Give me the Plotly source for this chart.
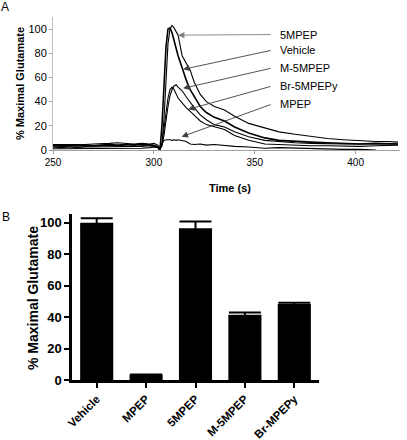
import plotly.graph_objects as go

# ---------- Panel A data ----------
time_s = [250, 254, 258, 262, 266, 270, 274, 278, 282, 286, 290, 294, 298, 300, 302, 303,
          304, 305, 306, 307, 308, 309, 310, 311, 312, 314, 316, 318, 320, 323, 326, 330,
          335, 340, 347, 355, 362, 370, 378, 386, 394, 402, 410, 416, 421]

mpep5 = [4.5, 4.5, 4, 4.5, 4.5, 5, 5, 5.5, 6, 5.5, 5, 5.5, 5, 5.5, 4, 2,
         5, 25, 60, 88, 100, 103, 101, 98, 95, 78, 72, 66, 56, 46, 40, 36,
         33, 28, 22, 18, 15, 13, 11, 9.5, 8.5, 7.5, 7, 7, 6.5]
vehicle = [3.5, 3.5, 3, 3.5, 4, 3.5, 4, 4.5, 4, 4.5, 4, 4.5, 4, 3.5, 2, 0,
           20, 55, 85, 100, 101, 97, 90, 84, 78, 68, 58, 50, 44, 36, 31, 27,
           24, 19, 14, 10, 8, 7, 6.5, 6, 5.5, 5, 5.5, 5.5, 5]
m5mpep = [2.5, 3, 3, 3.5, 3, 3.5, 3.5, 4, 3.5, 4, 4.5, 4, 4.5, 4, 3, 1,
          3, 12, 25, 36, 45, 50, 53, 54, 52, 49, 44, 39, 35, 29, 25, 21,
          19, 15, 11, 8, 7, 6, 5.5, 5, 5, 5, 5, 5.5, 5]
br5mpepy = [1, 1, 1.5, 1, 1, 1, 1.5, 1, 1.5, 1, 1, 1.5, 2, 2.5, 2, 0.5,
            5, 18, 32, 43, 50, 52, 50, 46, 43, 39, 35, 32, 29, 24, 21, 19,
            17, 12, 8, 5, 4.5, 4, 3.5, 3.5, 3, 3, 3.5, 4, 4]
mpep = [2.5, 2, 2.5, 2, 2.5, 2.5, 3, 2.5, 3, 2.5, 3, 3, 3.5, 3, 2, 0,
        5, 8, 8.5, 8.5, 8.5, 8, 8.5, 8, 8.5, 8, 7, 5, 4.5, 5, 4, 4.5,
        3.5, 3, 2.5, 1.5, 2, 1.5, 1, 1, 0.5, 0.5, 0, None, None]

line_names = ["5MPEP", "Vehicle", "M-5MPEP", "Br-5MPEPy", "MPEP"]
line_series = [mpep5, vehicle, m5mpep, br5mpepy, mpep]

# ---------- Panel B data ----------
bar_cats = ["Vehicle", "MPEP", "5MPEP", "M-5MPEP", "Br-MPEPy"]
bar_vals = [100, 3.5, 96.5, 41.5, 48.3]
bar_errs = [2.8, 0, 4.2, 1.4, 0.8]

FONT = "Arial, Liberation Sans, sans-serif"
fig = go.Figure()

widths = [1.1, 1.6, 1.1, 1.1, 1.1]
for name, ys, w in zip(line_names, line_series, widths):
    fig.add_trace(go.Scatter(x=time_s, y=ys, mode="lines", name=name,
                             line=dict(color="black", width=w),
                             xaxis="x", yaxis="y", showlegend=False))

fig.add_trace(go.Bar(x=bar_cats, y=bar_vals, width=0.67,
                     marker=dict(color="black", line=dict(width=0)),
                     error_y=dict(type="data", array=bar_errs, visible=True,
                                  color="black", thickness=2, width=16),
                     xaxis="x2", yaxis="y2", showlegend=False))

W, H = 407, 440
def px_x(p): return p / W
def px_y(p): return 1 - p / H

fig.update_layout(
    width=W, height=H, margin=dict(l=0, r=0, t=0, b=0, autoexpand=False),
    paper_bgcolor="white", plot_bgcolor="white",
    font=dict(family=FONT, color="black"),
    xaxis=dict(domain=[px_x(53), px_x(400)], range=[250, 422], anchor="y",
               automargin=False,
               tickvals=[250, 300, 350, 400], showline=True, linecolor="#a0a0a0",
               linewidth=1, ticks="outside", ticklen=3, tickcolor="#a0a0a0",
               showgrid=False, zeroline=False, tickfont=dict(size=10)),
    yaxis=dict(domain=[px_y(150), px_y(17)], range=[0, 110], anchor="x",
               automargin=False,
               tickvals=[0, 20, 40, 60, 80, 100], showline=True, linecolor="#c0c0c0",
               linewidth=1, ticks="outside", ticklen=3, tickcolor="#a0a0a0",
               showgrid=False, zeroline=False, tickfont=dict(size=11)),
    xaxis2=dict(domain=[px_x(72), px_x(319)], range=[-0.5, 4.5], anchor="y2",
                automargin=False,
                showline=True, linecolor="black", linewidth=2.5, ticks="outside",
                ticklen=5, tickwidth=2, tickcolor="black", tickangle=-45,
                showgrid=False, zeroline=False,
                tickfont=dict(size=11.5, weight="bold")),
    yaxis2=dict(domain=[px_y(380), px_y(214)], range=[0, 105.5], anchor="x2",
                automargin=False,
                tickvals=[0, 20, 40, 60, 80, 100], showline=True, linecolor="black",
                linewidth=2.5, ticks="outside", ticklen=5, tickwidth=2, tickcolor="black",
                showgrid=False, zeroline=False,
                tickfont=dict(size=13, weight="bold")),
)

def paper_text(text, x, y, size, angle=0, xa="center", ya="middle"):
    return dict(text=text, x=px_x(x), y=px_y(y), xref="paper", yref="paper",
                xanchor=xa, yanchor=ya, textangle=angle, showarrow=False,
                font=dict(size=size))

annotations = [
    paper_text("A", 5, 7, 12),
    paper_text("B", 6, 217, 12),
    paper_text("<b>% Maximal Glutamate</b>", 20, 84, 11, -90),
    paper_text("<b>Time (s)</b>", 230, 188, 11),
    paper_text("<b>% Maximal Glutamate</b>", 33, 298, 14, -90),
]

# arrow callouts: (label, tip_x, tip_y, tail_y, color)
callouts = [
    ("5MPEP", 312, 95, 95.5, "#808080"),
    ("Vehicle", 314.5, 66.7, 82.6, "#404040"),
    ("M-5MPEP", 314.5, 51, 67.8, "#404040"),
    ("Br-5MPEPy", 317, 33.6, 52.9, "#404040"),
    ("MPEP", 313.8, 11, 38, "#404040"),
]
for label, tx, ty, tyl, col in callouts:
    annotations.append(dict(x=tx, y=ty, xref="x", yref="y", ax=358.6, ay=tyl,
                            axref="x", ayref="y", text="", showarrow=True,
                            arrowhead=2, arrowsize=1.4, arrowwidth=0.9,
                            arrowcolor=col))
    annotations.append(dict(x=361.5, y=tyl, xref="x", yref="y", text=label,
                            xanchor="left", yanchor="middle", showarrow=False,
                            font=dict(size=11)))

fig.update_layout(annotations=annotations)
fig.write_html(
    "out.html",
    config={"displayModeBar": False},
    post_script="document.body.style.margin='0';document.body.style.overflow='hidden';",
)
